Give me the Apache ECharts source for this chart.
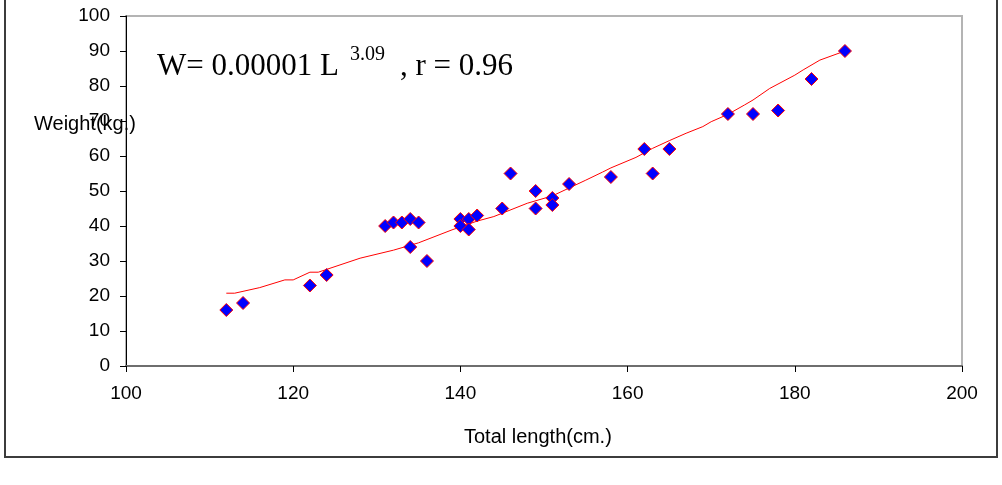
<!DOCTYPE html>
<html>
<head>
<meta charset="utf-8">
<script src="https://cdn.jsdelivr.net/npm/echarts@6/dist/echarts.min.js"></script>
<style>
  html, body { margin: 0; padding: 0; background: #fff; }
  #chart { width: 1002px; height: 485px; }
</style>
</head>
<body>
<div id="chart"></div>
<script>
// observed fish: total length (cm) and weight (kg)
var lengthCm = [112, 114, 122, 124, 131, 132, 133, 134, 135, 134, 136, 140, 140, 141, 141, 142,
                145, 146, 149, 149, 151, 151, 153, 158, 162, 163, 165, 172, 175, 178, 182, 186];
var weightKg = [16, 18, 23, 26, 40, 41, 41, 42, 41, 34, 30, 42, 40, 42, 39, 43,
                45, 55, 50, 45, 48, 46, 52, 54, 62, 55, 62, 72, 72, 73, 82, 90];

// fitted curve as drawn
var fitX = [112, 113, 116, 119, 120, 122, 123, 128, 132, 135, 139, 142, 144, 148, 151, 155,
            157, 158, 161, 163, 165, 167, 169, 170, 172, 174, 175, 177, 180, 181, 183, 186];
var fitY = [20.8, 20.8, 22.4, 24.6, 24.6, 26.8, 26.8, 30.8, 33.1, 35.2, 38.9, 41.4, 42.7, 46.5, 48.6, 53.1,
            55.4, 56.6, 59.6, 62.2, 64.4, 66.5, 68.4, 69.8, 71.9, 74.6, 76, 79.3, 83.1, 84.6, 87.4, 90];

var xTicks = [100, 120, 140, 160, 180, 200];
var yTicks = [0, 10, 20, 30, 40, 50, 60, 70, 80, 90, 100];

var pts = lengthCm.map(function (x, i) { return [x, weightKg[i]]; });
var fit = fitX.map(function (x, i) { return [x, fitY[i]]; });

var chart = echarts.init(document.getElementById('chart'));
var labelFont = { color: '#000', fontFamily: 'Liberation Sans, Arial', fontSize: 19 };

chart.setOption({
  animation: false,
  grid: {
    left: 126, right: 40, top: 16, bottom: 119,
    show: true, borderColor: '#b4b4b4', borderWidth: 2, backgroundColor: 'transparent'
  },
  xAxis: {
    type: 'value',
    min: xTicks[0], max: xTicks[xTicks.length - 1], interval: 20,
    axisLine: { show: true, onZero: false, lineStyle: { color: '#6e6e6e', width: 2 } },
    axisTick: { show: true, length: 6, lineStyle: { color: '#000' } },
    axisLabel: Object.assign({ margin: 18 }, labelFont),
    splitLine: { show: false }
  },
  yAxis: {
    type: 'value',
    min: yTicks[0], max: yTicks[yTicks.length - 1], interval: 10,
    axisLine: { show: true, lineStyle: { color: '#000', width: 1 } },
    axisTick: { show: true, length: 6, lineStyle: { color: '#000' } },
    axisLabel: Object.assign({ margin: 16 }, labelFont),
    splitLine: { show: false }
  },
  series: [
    {
      type: 'line',
      data: fit,
      showSymbol: false,
      lineStyle: { color: '#ff0000', width: 1 },
      z: 2
    },
    {
      type: 'scatter',
      data: pts,
      symbol: 'diamond',
      symbolSize: 13,
      itemStyle: { color: '#0000ff', borderColor: '#ff0000', borderWidth: 1, opacity: 1 },
      z: 3
    }
  ],
  graphic: [
    {
      type: 'rect', silent: true, z: -1,
      shape: { x: 5, y: -5, width: 992, height: 462 },
      style: { fill: 'none', stroke: '#3c3c3c', lineWidth: 2 }
    },
    {
      type: 'text', left: 34, top: 114, z: 10,
      style: { text: 'Weight(kg.)', font: '20px "Liberation Sans", Arial', fill: '#000' }
    },
    {
      type: 'text', left: 464, top: 427,
      style: { text: 'Total length(cm.)', font: '20px "Liberation Sans", Arial', fill: '#000' }
    },
    {
      type: 'text', left: 157, top: 51,
      style: { text: 'W= 0.00001 L', font: '31px "Liberation Serif", "Times New Roman"', fill: '#000' }
    },
    {
      type: 'text', left: 350, top: 45,
      style: { text: '3.09', font: '20px "Liberation Serif", "Times New Roman"', fill: '#000' }
    },
    {
      type: 'text', left: 400, top: 51,
      style: { text: ', r = 0.96', font: '31px "Liberation Serif", "Times New Roman"', fill: '#000' }
    }
  ]
});

window.addEventListener('resize', function () { chart.resize(); });
</script>
</body>
</html>
